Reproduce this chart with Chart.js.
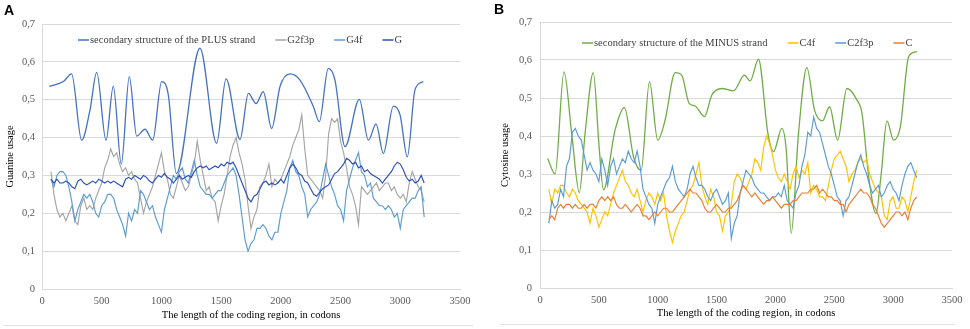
<!DOCTYPE html>
<html>
<head>
<meta charset="utf-8">
<script src="https://cdn.jsdelivr.net/npm/chart.js@4"></script>
<style>
  body { margin: 0; background: #fff; width: 970px; height: 329px; position: relative; overflow: hidden; }
  .panel { position: absolute; top: 0; width: 485px; height: 329px; }
  .tag { position: absolute; font: bold 14px "Liberation Sans", Arial, sans-serif; color: #000; }
  .rule { position: absolute; height: 0; border-top: 1px solid #e3e3e3; }
</style>
</head>
<body>
<div class="panel" style="left:0"><canvas id="chartA" width="485" height="329"></canvas></div>
<div class="panel" style="left:485px"><canvas id="chartB" width="485" height="329"></canvas></div>
<div class="tag" style="left:4px;top:2px">A</div>
<div class="tag" style="left:494px;top:1px">B</div>
<div class="rule" style="left:3px;width:470px;top:325px"></div>
<div class="rule" style="left:500px;width:455px;top:324px"></div>
<script>
// sliding window positions, in codons
const codons = Array.from({ length: 126 }, (_, i) => 75 + 25 * i);

// panel A - guanine
const plusX = [61, 179, 248, 332, 402, 458, 536, 597, 664, 731, 793, 862, 927, 1002, 1058, 1125, 1323, 1462, 1541, 1658, 1728, 1792, 1853, 1923, 1993, 2077, 2160, 2272, 2322, 2397, 2453, 2537, 2657, 2733, 2797, 2858, 2942, 2998, 3059, 3123, 3193];
const plusY = [0.535, 0.548, 0.568, 0.393, 0.473, 0.572, 0.393, 0.536, 0.33, 0.561, 0.404, 0.422, 0.393, 0.548, 0.512, 0.305, 0.636, 0.385, 0.555, 0.395, 0.517, 0.49, 0.521, 0.424, 0.535, 0.568, 0.552, 0.482, 0.442, 0.583, 0.552, 0.376, 0.501, 0.393, 0.436, 0.358, 0.483, 0.46, 0.349, 0.526, 0.548];

const g2f3p = [
  0.31, 0.25, 0.21, 0.19, 0.20, 0.18, 0.20, 0.22, 0.18, 0.17,
  0.22, 0.24, 0.21, 0.22, 0.21, 0.24, 0.26, 0.28, 0.32, 0.34,
  0.37, 0.35, 0.36, 0.33, 0.31, 0.32, 0.30, 0.31, 0.29, 0.28,
  0.24, 0.20, 0.23, 0.25, 0.27, 0.30, 0.33, 0.36, 0.31, 0.29,
  0.25, 0.24, 0.27, 0.30, 0.28, 0.26, 0.27, 0.30, 0.33, 0.39,
  0.34, 0.30, 0.26, 0.27, 0.24, 0.23, 0.18, 0.22, 0.25, 0.30,
  0.35, 0.38, 0.40, 0.36, 0.33, 0.29, 0.22, 0.16, 0.19, 0.21,
  0.27, 0.28, 0.30, 0.33, 0.27, 0.29, 0.28, 0.29, 0.31, 0.33,
  0.35, 0.38, 0.40, 0.42, 0.46, 0.37, 0.30, 0.29, 0.28, 0.27,
  0.26, 0.24, 0.30, 0.41, 0.45, 0.44, 0.45, 0.39, 0.36, 0.32,
  0.27, 0.25, 0.22, 0.17, 0.27, 0.26, 0.25, 0.26, 0.27, 0.28,
  0.26, 0.27, 0.28, 0.28, 0.26, 0.27, 0.25, 0.24, 0.25, 0.23,
  0.28, 0.31, 0.29, 0.27, 0.26, 0.23
];
const g4f = [
  0.29, 0.27, 0.30, 0.31, 0.31, 0.30, 0.27, 0.23, 0.18, 0.21,
  0.23, 0.25, 0.24, 0.25, 0.23, 0.20, 0.19, 0.22, 0.23, 0.25,
  0.25, 0.24, 0.21, 0.19, 0.17, 0.14, 0.20, 0.18, 0.21, 0.20,
  0.26, 0.25, 0.23, 0.21, 0.22, 0.19, 0.17, 0.15, 0.21, 0.24,
  0.27, 0.30, 0.29, 0.31, 0.32, 0.29, 0.28, 0.31, 0.34, 0.30,
  0.27, 0.26, 0.25, 0.25, 0.24, 0.25, 0.26, 0.26, 0.28, 0.30,
  0.31, 0.32, 0.30, 0.25, 0.19, 0.13, 0.10, 0.12, 0.13, 0.16,
  0.16, 0.17, 0.16, 0.14, 0.13, 0.15, 0.15, 0.20, 0.23, 0.26,
  0.32, 0.34, 0.31, 0.30, 0.27, 0.25, 0.19, 0.21, 0.22, 0.23,
  0.25, 0.29, 0.33, 0.30, 0.27, 0.25, 0.22, 0.21, 0.18, 0.26,
  0.29, 0.32, 0.34, 0.36, 0.31, 0.30, 0.27, 0.28, 0.24, 0.23,
  0.22, 0.22, 0.21, 0.22, 0.21, 0.19, 0.20, 0.16, 0.21, 0.22,
  0.23, 0.24, 0.24, 0.26, 0.27, 0.19
];
const g = [
  0.29, 0.28, 0.29, 0.28, 0.28, 0.285, 0.28, 0.27, 0.265, 0.285,
  0.29, 0.28, 0.275, 0.28, 0.285, 0.28, 0.29, 0.285, 0.28, 0.285,
  0.28, 0.285, 0.28, 0.275, 0.27, 0.29, 0.295, 0.29, 0.30, 0.295,
  0.29, 0.30, 0.295, 0.285, 0.28, 0.29, 0.30, 0.295, 0.305, 0.295,
  0.29, 0.28, 0.29, 0.30, 0.29, 0.295, 0.30, 0.295, 0.31, 0.32,
  0.325, 0.32, 0.325, 0.315, 0.32, 0.325, 0.32, 0.33, 0.325, 0.335,
  0.33, 0.335, 0.32, 0.30, 0.28, 0.26, 0.24, 0.23, 0.245, 0.25,
  0.265, 0.28, 0.285, 0.275, 0.28, 0.275, 0.28, 0.29, 0.28, 0.30,
  0.32, 0.33, 0.32, 0.305, 0.30, 0.285, 0.28, 0.265, 0.25, 0.245,
  0.255, 0.265, 0.27, 0.275, 0.29, 0.305, 0.31, 0.32, 0.33, 0.345,
  0.34, 0.33, 0.335, 0.32, 0.325, 0.31, 0.315, 0.305, 0.30, 0.295,
  0.29, 0.28, 0.29, 0.30, 0.31, 0.325, 0.335, 0.33, 0.315, 0.295,
  0.285, 0.29, 0.28, 0.285, 0.30, 0.28
];

// panel B - cytosine
const minusX = [65, 128, 204, 269, 334, 383, 453, 502, 539, 638, 717, 794, 859, 930, 1000, 1063, 1148, 1204, 1267, 1318, 1397, 1460, 1545, 1644, 1737, 1785, 1856, 1936, 1984, 2055, 2092, 2134, 2196, 2267, 2332, 2400, 2460, 2528, 2607, 2692, 2735, 2792, 2854, 2899, 2947, 3004, 3061, 3132, 3202];
const minusY = [0.341, 0.30, 0.569, 0.407, 0.251, 0.407, 0.567, 0.372, 0.258, 0.416, 0.475, 0.346, 0.309, 0.543, 0.389, 0.442, 0.567, 0.56, 0.486, 0.479, 0.451, 0.508, 0.525, 0.519, 0.56, 0.545, 0.602, 0.407, 0.359, 0.42, 0.363, 0.144, 0.407, 0.58, 0.468, 0.44, 0.477, 0.389, 0.525, 0.495, 0.46, 0.293, 0.196, 0.302, 0.44, 0.389, 0.424, 0.609, 0.622];

const c4f = [
  0.26, 0.22, 0.26, 0.25, 0.27, 0.27, 0.25, 0.24, 0.26, 0.25,
  0.23, 0.22, 0.21, 0.20, 0.17, 0.21, 0.19, 0.16, 0.18, 0.20,
  0.19, 0.22, 0.25, 0.27, 0.29, 0.31, 0.28, 0.27, 0.25, 0.24,
  0.26, 0.23, 0.20, 0.23, 0.25, 0.24, 0.22, 0.25, 0.23, 0.25,
  0.19, 0.15, 0.12, 0.15, 0.17, 0.19, 0.20, 0.23, 0.26, 0.27,
  0.30, 0.33, 0.27, 0.24, 0.22, 0.26, 0.24, 0.20, 0.19, 0.15,
  0.19, 0.20, 0.22, 0.28, 0.30, 0.29, 0.27, 0.26, 0.28, 0.30,
  0.34, 0.33, 0.31, 0.37, 0.40, 0.38, 0.35, 0.31, 0.29, 0.28,
  0.30, 0.28, 0.26, 0.30, 0.32, 0.29, 0.31, 0.30, 0.33, 0.25,
  0.27, 0.26, 0.24, 0.24, 0.23, 0.27, 0.31, 0.34, 0.35, 0.36,
  0.34, 0.32, 0.28, 0.30, 0.31, 0.33, 0.34, 0.33, 0.34, 0.30,
  0.28, 0.26, 0.25, 0.24, 0.19, 0.18, 0.23, 0.24, 0.21, 0.21,
  0.24, 0.23, 0.20, 0.24, 0.28, 0.31
];
const c2f3p = [
  0.17, 0.23, 0.21, 0.22, 0.26, 0.24, 0.32, 0.34, 0.41, 0.42,
  0.40, 0.39, 0.35, 0.31, 0.33, 0.31, 0.30, 0.28, 0.34, 0.31,
  0.27, 0.32, 0.34, 0.30, 0.32, 0.34, 0.33, 0.36, 0.34, 0.33,
  0.36, 0.32, 0.26, 0.24, 0.22, 0.21, 0.17, 0.22, 0.24, 0.26,
  0.28, 0.29, 0.32, 0.28, 0.26, 0.25, 0.24, 0.26, 0.30, 0.32,
  0.29, 0.27, 0.27, 0.26, 0.24, 0.23, 0.25, 0.26, 0.24, 0.22,
  0.23, 0.25, 0.13, 0.17, 0.19, 0.25, 0.28, 0.31, 0.30, 0.29,
  0.27, 0.26, 0.25, 0.25, 0.24, 0.23, 0.24, 0.24, 0.25, 0.24,
  0.27, 0.23, 0.22, 0.21, 0.25, 0.27, 0.32, 0.35, 0.41, 0.40,
  0.45, 0.42, 0.41, 0.38, 0.35, 0.32, 0.30, 0.27, 0.24, 0.23,
  0.19, 0.23, 0.24, 0.27, 0.30, 0.33, 0.35, 0.32, 0.30, 0.27,
  0.25, 0.26, 0.27, 0.24, 0.25, 0.27, 0.28, 0.26, 0.25, 0.23,
  0.27, 0.30, 0.32, 0.33, 0.31, 0.29
];
const c = [
  0.18, 0.19, 0.18, 0.21, 0.22, 0.21, 0.22, 0.22, 0.21, 0.22,
  0.21, 0.21, 0.22, 0.21, 0.22, 0.22, 0.21, 0.23, 0.24, 0.23,
  0.24, 0.23, 0.24, 0.22, 0.21, 0.21, 0.22, 0.21, 0.20, 0.21,
  0.22, 0.21, 0.19, 0.19, 0.18, 0.19, 0.20, 0.19, 0.20, 0.21,
  0.21, 0.20, 0.20, 0.21, 0.22, 0.23, 0.24, 0.25, 0.26, 0.25,
  0.25, 0.24, 0.23, 0.21, 0.20, 0.20, 0.21, 0.22, 0.21, 0.20,
  0.20, 0.21, 0.21, 0.22, 0.23, 0.25, 0.27, 0.26, 0.25, 0.24,
  0.25, 0.24, 0.23, 0.22, 0.23, 0.23, 0.24, 0.23, 0.22, 0.21,
  0.22, 0.22, 0.22, 0.23, 0.23, 0.24, 0.25, 0.25, 0.25, 0.26,
  0.26, 0.27, 0.25, 0.26, 0.25, 0.24, 0.24, 0.23, 0.23, 0.22,
  0.22, 0.20, 0.22, 0.23, 0.24, 0.25, 0.26, 0.25, 0.25, 0.24,
  0.22, 0.21, 0.19, 0.17, 0.16, 0.17, 0.18, 0.19, 0.20, 0.20,
  0.19, 0.20, 0.18, 0.21, 0.23, 0.24
];

const serif = '"Liberation Serif", "Times New Roman", serif';

function pts(xs, ys) {
  return xs.map((x, i) => ({ x: x, y: ys[i] }));
}

function noisy(label, values, color, order) {
  return { label: label, data: pts(codons, values), borderColor: color, backgroundColor: color,
    borderWidth: 1.15, pointRadius: 0, tension: 0, order: order };
}

function smooth(label, xs, ys, color) {
  return { label: label, data: pts(xs, ys), borderColor: color, backgroundColor: color,
    borderWidth: 1.3, pointRadius: 0, cubicInterpolationMode: "monotone", order: 4 };
}

// excel style legend: short line then label, drawn inside the plot
const lineLegend = {
  id: "lineLegend",
  afterDraw(chart, args, opts) {
    const ctx = chart.ctx;
    ctx.save();
    ctx.font = "10.5px " + serif;
    ctx.textBaseline = "middle";
    let x = opts.x;
    chart.data.datasets.forEach((ds) => {
      ctx.strokeStyle = ds.borderColor;
      ctx.lineWidth = 1.5;
      ctx.beginPath();
      ctx.moveTo(x, opts.y);
      ctx.lineTo(x + 11, opts.y);
      ctx.stroke();
      x += 12;
      ctx.fillStyle = "#404040";
      ctx.fillText(ds.label, x, opts.y);
      x += ctx.measureText(ds.label).width + opts.gap;
    });
    ctx.restore();
  },
};

function makeChart(id, datasets, yTitle, lay) {
  return new Chart(document.getElementById(id), {
    type: "line",
    data: { datasets: datasets },
    plugins: [lineLegend],
    options: {
      responsive: false,
      animation: false,
      devicePixelRatio: 1,
      layout: { padding: { top: lay.top, right: lay.right, left: 0, bottom: 0 } },
      plugins: {
        legend: { display: false },
        tooltip: { enabled: false },
        lineLegend: { x: lay.legendX, y: lay.legendY, gap: 20 },
      },
      scales: {
        x: {
          type: "linear",
          min: 0,
          max: 3500,
          afterFit: (s) => { s.height = lay.xHeight; },
          grid: { display: false, drawTicks: false },
          border: { display: true, color: "#d9d9d9" },
          ticks: { stepSize: 500, padding: 6, color: "#595959", font: { family: serif, size: 10.5 },
            callback: (v) => String(v), maxRotation: 0 },
          title: { display: true, text: "The length of the coding region, in codons", color: "#000",
            font: { family: serif, size: 10.5 }, padding: { top: 0, bottom: lay.xTitlePad } },
        },
        y: {
          min: 0,
          max: 0.7,
          afterFit: (s) => { s.width = lay.yWidth; },
          grid: { color: "#d9d9d9", drawTicks: false },
          border: { display: true, color: "#d9d9d9" },
          ticks: { stepSize: 0.1, padding: lay.tickPad, color: "#595959", font: { family: serif, size: 10.5 },
            callback: (v) => (v === 0 ? "0" : v.toFixed(1).replace(".", ",")) },
          title: { display: true, text: yTitle, color: "#000", font: { family: serif, size: 10.5 },
            padding: { top: lay.yTitlePad, bottom: 0 } },
        },
      },
    },
  });
}

makeChart("chartA", [
  smooth("secondary structure of the PLUS strand", plusX, plusY, "#4472C4"),
  noisy("G2f3p", g2f3p, "#A5A5A5", 3),
  noisy("G4f", g4f, "#5B9BD5", 2),
  noisy("G", g, "#2B50B8", 1),
], "Guanine usage",
  { top: 24, right: 25, yWidth: 42, xHeight: 40, tickPad: 7, yTitlePad: 4, xTitlePad: 7, legendX: 78, legendY: 40 });

makeChart("chartB", [
  smooth("secondary structure of the MINUS strand", minusX, minusY, "#70AD47"),
  noisy("C4f", c4f, "#FFC000", 3),
  noisy("C2f3p", c2f3p, "#5B9BD5", 2),
  noisy("C", c, "#ED7D31", 1),
], "Cytosine usage",
  { top: 22, right: 18, yWidth: 55, xHeight: 41, tickPad: 8, yTitlePad: 14, xTitlePad: 9, legendX: 97, legendY: 43 });
</script>
</body>
</html>
